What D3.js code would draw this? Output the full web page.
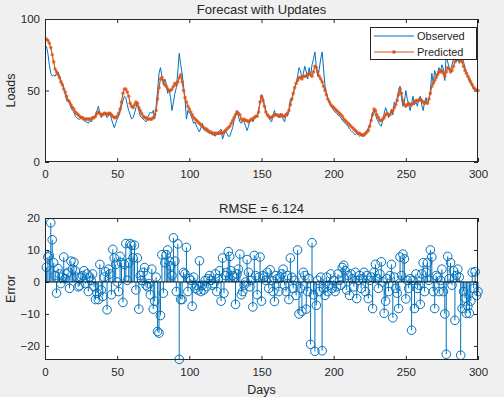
<!DOCTYPE html>
<html>
<head>
<meta charset="utf-8">
<script src="https://cdn.jsdelivr.net/npm/d3@7"></script>
<style>
  body { margin: 0; background: #f0f0f0; }
  text { font-family: "Liberation Sans", Arial, Helvetica, sans-serif; fill: #262626; }
</style>
</head>
<body>
<svg></svg>
<script>
// loads, one value per day (days 1..300)
var observed = [
  81, 76, 68, 62, 60, 61, 60, 62, 63, 60,
  57, 55, 52, 47, 43, 44, 42, 38, 36, 35,
  32, 31, 30, 30, 31, 30, 29, 28, 28, 27,
  29, 28, 30, 31, 33, 36, 39, 34, 31, 33,
  35, 33, 31, 32, 35, 30, 27, 24, 27, 30,
  32, 35, 39, 43, 46, 45, 40, 36, 33, 30,
  31, 34, 38, 42, 36, 32, 31, 30, 29, 28,
  31, 33, 35, 34, 36, 30, 39, 50, 62, 66,
  60, 54, 58, 55, 48, 51, 45, 36, 42, 48,
  52, 63, 76, 68, 62, 53, 44, 30, 36, 34,
  33, 30, 27, 28, 25, 23, 21, 24, 27, 23,
  22, 21, 21, 20, 20, 19, 19, 18, 20, 21,
  22, 23, 16, 19, 22, 20, 18, 18, 21, 24,
  29, 33, 36, 32, 28, 27, 29, 28, 25, 22,
  25, 29, 30, 28, 31, 31, 33, 36, 42, 47,
  45, 40, 36, 33, 31, 29, 28, 33, 36, 32,
  33, 31, 34, 32, 30, 28, 34, 32, 37, 44,
  43, 48, 52, 55, 60, 66, 64, 58, 62, 67,
  63, 58, 66, 60, 68, 72, 77, 66, 60, 65,
  72, 77, 65, 53, 48, 44, 43, 40, 38, 36,
  35, 34, 33, 32, 31, 29, 28, 27, 26, 25,
  23, 22, 21, 20, 19, 20, 19, 18, 19, 18,
  18, 19, 21, 24, 26, 30, 35, 36, 33, 30,
  28, 26, 25, 29, 34, 38, 35, 31, 33, 37,
  33, 42, 40, 45, 50, 53, 45, 39, 42, 50,
  44, 40, 36, 41, 46, 40, 42, 39, 44, 46,
  40, 36, 42, 45, 41, 44, 50, 62, 55, 64,
  60, 62, 66, 63, 68, 65, 57, 76, 70, 66,
  64, 68, 72, 76, 70, 74, 69, 72, 73, 70,
  66, 62, 60, 56, 55, 53, 51, 50, 50, 50
];

var predicted = [
  86, 85, 83, 80, 75, 70, 65, 63, 61, 59,
  56, 54, 51, 49, 46, 43, 42, 40, 38, 37,
  35, 34, 33, 32, 31, 31, 30, 30, 30, 30,
  30, 30, 31, 31, 32, 34, 35, 34, 33, 33,
  34, 34, 33, 34, 34, 33, 32, 31, 31, 32,
  34, 37, 42, 48, 51, 51, 49, 46, 41, 39,
  38, 40, 42, 41, 38, 36, 34, 32, 31, 31,
  30, 30, 30, 30, 31, 33, 36, 44, 52, 58,
  59, 57, 54, 53, 51, 50, 50, 51, 53, 55,
  54, 56, 59, 61, 56, 50, 45, 42, 39, 37,
  35, 33, 31, 30, 29, 28, 27, 26, 25, 24,
  23, 23, 22, 21, 21, 20, 20, 20, 20, 20,
  20, 21, 20, 21, 22, 23, 24, 25, 27, 29,
  31, 33, 35, 34, 33, 30, 29, 30, 29, 29,
  28, 29, 30, 30, 31, 32, 32, 35, 42, 46,
  43, 39, 35, 33, 32, 31, 31, 32, 33, 33,
  33, 32, 32, 33, 32, 32, 33, 34, 36, 40,
  44, 48, 52, 55, 57, 59, 59, 58, 60, 60,
  60, 61, 62, 61, 60, 63, 67, 66, 63, 60,
  58, 56, 53, 50, 47, 44, 42, 40, 39, 38,
  37, 36, 35, 34, 33, 32, 30, 29, 28, 27,
  26, 25, 24, 23, 22, 21, 20, 20, 19, 19,
  19, 20, 21, 22, 25, 29, 33, 37, 36, 33,
  31, 29, 29, 30, 31, 33, 34, 33, 33, 35,
  36, 38, 40, 43, 47, 51, 48, 43, 40, 39,
  40, 41, 40, 40, 41, 42, 43, 43, 43, 44,
  43, 42, 41, 42, 41, 44, 48, 53, 55, 57,
  59, 61, 63, 63, 64, 62, 60, 63, 66, 65,
  63, 64, 67, 70, 72, 72, 71, 71, 70, 67,
  64, 62, 60, 58, 56, 54, 52, 51, 50, 50
];

var errors = [
  4.6, 7.8, 8.2, 18.5, 13.2, 6, 2, -3.5, 4.2, 2.5,
  -0.5, 1.5, 7.8, 1, 2.5, 3, -2, 6.5, 4, 6.2,
  3.5, 1.5, -1.5, -1.2, 1.5, 2, 3.5, -0.5, 2.5, -3,
  1.5, 0.5, 2.5, -1.5, -5.5, -3.5, -5.5, 5.5, -2.5, -4.5,
  1.5, 3.2, -8.7, 4, 2.5, -4, 10.2, 7.5, 5.5, 0,
  -3, 8, 6, -6.4, 5.5, 12, 0.5, 6, 12, 11.5,
  7.5, 11.5, -2.5, 7.5, -8.5, 2, 0.5, 3, 4.5, -1,
  -1.5, -0.5, -4, 4, -8.5, -6, 1.5, -15.5, -16, -10.5,
  8.5, -3.5, 6, 8.5, 10, 6.5, 5, 2, 13.8, 6.5,
  -3, 11.9, -24.2, -5.5, -5.5, 3, 2.5, 10.8, -3, 1,
  0.5, -7.6, 1.5, -2, -1, -2.5, 6.6, -3, -1, -2.5,
  0.5, -1.5, 1, 2, 0.5, -1, -0.5, 2.5, -3, 1,
  3.5, -6, 7.5, -3.5, 2, 3, 9.5, 8, 3.5, 2,
  1.5, -7, 2.5, 4, 8.7, -4, -3, -1, 0, 7,
  3, -1.5, 0.5, -7.8, 8.3, 2, -4, 1.5, 7.8, -6,
  2, 1.5, 0.5, 3, -2, 3.8, 0.5, -3, -6.1, 2,
  1, -3, 1.5, 2.5, 4, -1, -3, 2, -5.5, 7.5,
  1.5, -2, 0.5, -4.2, 10, -10, -2, -9.2, 3, 2,
  -8.5, -3, 1, -19.5, 12.3, -4, -21.7, -7.3, 0.5, -3,
  1.5, -21.5, -2, -4.2, 1.5, -3, -1, 2.5, -2, 0.5,
  -3, -1.5, 2.5, 0.5, -1, 4.5, 5.2, 3.5, -2.5, 2,
  -4.2, 2.5, 1, -1.5, 3, -5.2, 0.5, 2, -2, 1,
  3, -3, 2, -5.2, 0.5, 1.5, -8.3, 3, 5.5, 1,
  -2, 2.5, 6.3, 0, -9.8, -6, 1, -3, 2, 5.5,
  -11.2, 1.5, -2, -3.5, -8.3, 7.8, 2, 8.7, 7.2, -5.3,
  0.5, -2, 1, -15.1, 0.5, -8.3, 2.5, -2, -1, -7,
  2.5, 6, -3, 3, 6, 0.5, 10, 7.8, -3, -8.3,
  2, 1.5, -3, 0.5, 4, -3, -10, -22.6, 8, 1,
  6, -1, 3.5, -12, 2, 4, 1.5, -22.9, -8.3, -3,
  -5, -9.8, -7.5, -9.8, -6, 3, -2, 3.2, -4.2, -3
];

var rmse = "6.124";
var dayTicks = [0, 50, 100, 150, 200, 250, 300];
var loadTicks = [0, 50, 100];
var errorTicks = [-20, -10, 0, 10, 20];
var seriesNames = ["Observed", "Predicted"];

var width = 504,
    height = 397;
var blue = "#0072BD", orange = "#D95319", ink = "#262626";

var svg = d3.select("svg")
    .attr("width", width)
    .attr("height", height);

svg.append("rect")
    .attr("width", width).attr("height", height)
    .attr("fill", "#f0f0f0");

var left = 45, right = 478;
var top1 = 19, bottom1 = 162;
var top2 = 218, bottom2 = 360;

var x = d3.scaleLinear().domain([0, 300]).range([left, right]);
var yLoad = d3.scaleLinear().domain([0, 100]).range([bottom1, top1]);
var yErr = d3.scaleLinear().domain([-24.4, 20]).range([bottom2, top2]);

function panel(y, yTicks, top, bottom, title, ylabel) {
  var g = svg.append("g");
  g.append("rect")
      .attr("x", left).attr("y", top)
      .attr("width", right - left).attr("height", bottom - top)
      .attr("fill", "#fff");

  var bx = g.append("g").attr("transform", "translate(0," + bottom + ")")
      .call(d3.axisBottom(x).tickValues(dayTicks).tickSizeInner(-4).tickSizeOuter(0).tickPadding(8));
  var tx = g.append("g").attr("transform", "translate(0," + top + ")")
      .call(d3.axisBottom(x).tickValues(dayTicks).tickSize(4).tickFormat(""));
  var ly = g.append("g").attr("transform", "translate(" + left + ",0)")
      .call(d3.axisLeft(y).tickValues(yTicks).tickSizeInner(-4).tickSizeOuter(0).tickPadding(5));
  var ry = g.append("g").attr("transform", "translate(" + right + ",0)")
      .call(d3.axisLeft(y).tickValues(yTicks).tickSize(4).tickFormat(""));

  [bx, tx, ly, ry].forEach(function(a) {
    a.select(".domain").remove();
    a.selectAll("line").attr("stroke", ink);
    a.selectAll("text").attr("fill", ink).style("font-size", "11.5px")
        .attr("font-family", null);
  });

  g.append("text")
      .attr("x", (left + right) / 2).attr("y", top - 5.5)
      .attr("text-anchor", "middle")
      .style("font-size", "13px")
      .text(title);

  g.append("text")
      .attr("transform", "translate(15," + ((top + bottom) / 2) + ") rotate(-90)")
      .attr("text-anchor", "middle")
      .style("font-size", "12.5px")
      .text(ylabel);
  return g;
}

function frame(top, bottom) {
  svg.append("rect")
      .attr("x", left + 0.5).attr("y", top + 0.5)
      .attr("width", right - left - 1).attr("height", bottom - top - 1)
      .attr("fill", "none")
      .attr("stroke", ink).attr("stroke-width", 1);
}

// top panel
panel(yLoad, loadTicks, top1, bottom1, "Forecast with Updates", "Loads");

var line = d3.line()
    .x(function(d, i) { return x(i + 1); })
    .y(function(d) { return yLoad(d); });

svg.append("path")
    .datum(observed)
    .attr("d", line)
    .attr("fill", "none")
    .attr("stroke", blue)
    .attr("stroke-width", 1);

svg.append("path")
    .datum(predicted)
    .attr("d", line)
    .attr("fill", "none")
    .attr("stroke", orange)
    .attr("stroke-width", 1.2);

svg.append("g").selectAll("circle")
    .data(predicted)
    .enter().append("circle")
    .attr("cx", function(d, i) { return x(i + 1); })
    .attr("cy", function(d) { return yLoad(d); })
    .attr("r", 1.8)
    .attr("fill", orange)
    .attr("fill-opacity", 0.75);

frame(top1, bottom1);

// legend
var lg = svg.append("g").attr("transform", "translate(370,27)");
lg.append("rect")
    .attr("x", 0.5).attr("y", 0.5).attr("width", 106).attr("height", 32)
    .attr("fill", "#fff").attr("stroke", ink).attr("stroke-width", 1);
var colors = [blue, orange];
seriesNames.forEach(function(name, i) {
  var yy = 9 + i * 16;
  lg.append("line")
      .attr("x1", 4).attr("x2", 44).attr("y1", yy).attr("y2", yy)
      .attr("stroke", colors[i]).attr("stroke-width", 1);
  if (i === 1) {
    lg.append("circle").attr("cx", 24).attr("cy", yy).attr("r", 1.8).attr("fill", colors[i]);
  }
  lg.append("text")
      .attr("x", 47).attr("y", yy + 4)
      .style("font-size", "11px")
      .text(name);
});

// bottom panel
panel(yErr, errorTicks, top2, bottom2, "RMSE = " + rmse, "Error");

var stems = svg.append("g");
stems.selectAll("line")
    .data(errors)
    .enter().append("line")
    .attr("x1", function(d, i) { return x(i + 1); })
    .attr("x2", function(d, i) { return x(i + 1); })
    .attr("y1", yErr(0))
    .attr("y2", function(d) { return yErr(d); })
    .attr("stroke", blue)
    .attr("stroke-width", 1);

svg.append("line")
    .attr("x1", left).attr("x2", right)
    .attr("y1", yErr(0)).attr("y2", yErr(0))
    .attr("stroke", "#000").attr("stroke-width", 1);

stems.selectAll("circle")
    .data(errors)
    .enter().append("circle")
    .attr("cx", function(d, i) { return x(i + 1); })
    .attr("cy", function(d) { return yErr(d); })
    .attr("r", 4.3)
    .attr("fill", "none")
    .attr("stroke", blue)
    .attr("stroke-width", 1);

frame(top2, bottom2);

svg.append("text")
    .attr("x", (left + right) / 2).attr("y", 394)
    .attr("text-anchor", "middle")
    .style("font-size", "12.5px")
    .text("Days");
</script>
</body>
</html>
